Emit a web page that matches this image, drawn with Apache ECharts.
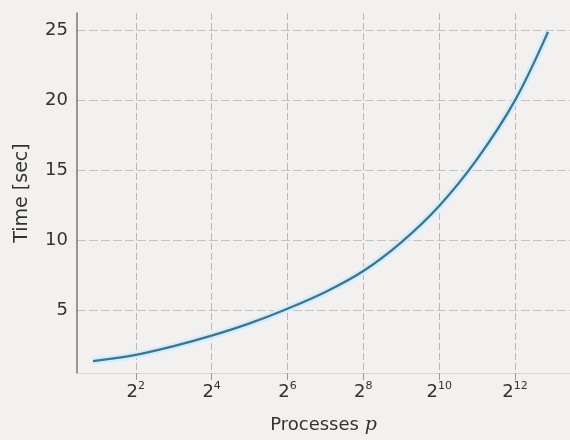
<!DOCTYPE html>
<html>
<head>
<meta charset="utf-8">
<script src="https://cdn.jsdelivr.net/npm/echarts@6/dist/echarts.min.js"></script>
<style>
html,body{margin:0;padding:0;background:#f2f1ef;}
#c{width:570px;height:440px;}
</style>
</head>
<body>
<div id="c"></div>
<script>
// x = log2(p) exponents, y = time in seconds
const exponents = [0.87, 2, 3, 4, 5, 6, 7, 8, 9, 10, 11, 12, 12.87];
const times = [1.35, 1.8, 2.42, 3.17, 4.05, 5.1, 6.3, 7.8, 9.85, 12.45, 15.8, 20.0, 24.9];
const xTickExponents = [2, 4, 6, 8, 10, 12];
const yTicks = [5, 10, 15, 20, 25];

const font = '"DejaVu Sans", sans-serif';
const points = exponents.map((e, i) => [e, times[i]]);
const chart = echarts.init(document.getElementById('c'));
chart.setOption({
  backgroundColor: '#f2f1ef',
  animation: false,
  grid: {left: 77, right: 0, top: 13, bottom: 55},
  xAxis: {
    type: 'value',
    min: 0.45,
    max: 13.45,
    name: '{t|Processes }{p|p}',
    nameLocation: 'middle',
    nameGap: 43,
    nameTextStyle: {
      rich: {
        t: {fontSize: 18, color: '#333', fontFamily: font},
        p: {fontSize: 19, color: '#333', fontFamily: '"DejaVu Serif", serif', fontStyle: 'italic'}
      }
    },
    axisLine: {show: true, lineStyle: {color: '#d8d8d8', width: 1}},
    axisTick: {show: true, customValues: xTickExponents, length: 7, lineStyle: {color: '#999'}},
    axisLabel: {
      customValues: xTickExponents,
      margin: 8,
      formatter: v => '{b|2}{s|' + v + '}',
      rich: {
        b: {fontSize: 18, color: '#333', fontFamily: font, verticalAlign: 'bottom', lineHeight: 20},
        s: {fontSize: 11, color: '#333', fontFamily: font, verticalAlign: 'top', lineHeight: 20, padding: [0, 0, 7, 0]}
      }
    },
    splitLine: {show: true, lineStyle: {color: '#b8b8b8', type: [7, 3], width: 1}}
  },
  yAxis: {
    type: 'value',
    min: 0.5,
    max: 26.25,
    name: 'Time [sec]',
    nameLocation: 'middle',
    nameGap: 45,
    nameTextStyle: {fontSize: 19, color: '#333', fontFamily: font},
    axisLine: {show: true, lineStyle: {color: '#777', width: 1.5}},
    axisTick: {show: false, customValues: yTicks},
    axisLabel: {customValues: yTicks, fontSize: 18, color: '#333', fontFamily: font, margin: 9},
    splitLine: {show: true, lineStyle: {color: '#c4c4c4', type: [9, 3], width: 1}}
  },
  series: [{
    type: 'line',
    data: points,
    smooth: 0.35,
    showSymbol: false,
    silent: true,
    lineStyle: {color: '#d3eef9', width: 7}
  }, {
    type: 'line',
    data: points,
    smooth: 0.35,
    showSymbol: false,
    lineStyle: {color: '#3b7594', width: 2.3}
  }]
});
</script>
</body>
</html>
